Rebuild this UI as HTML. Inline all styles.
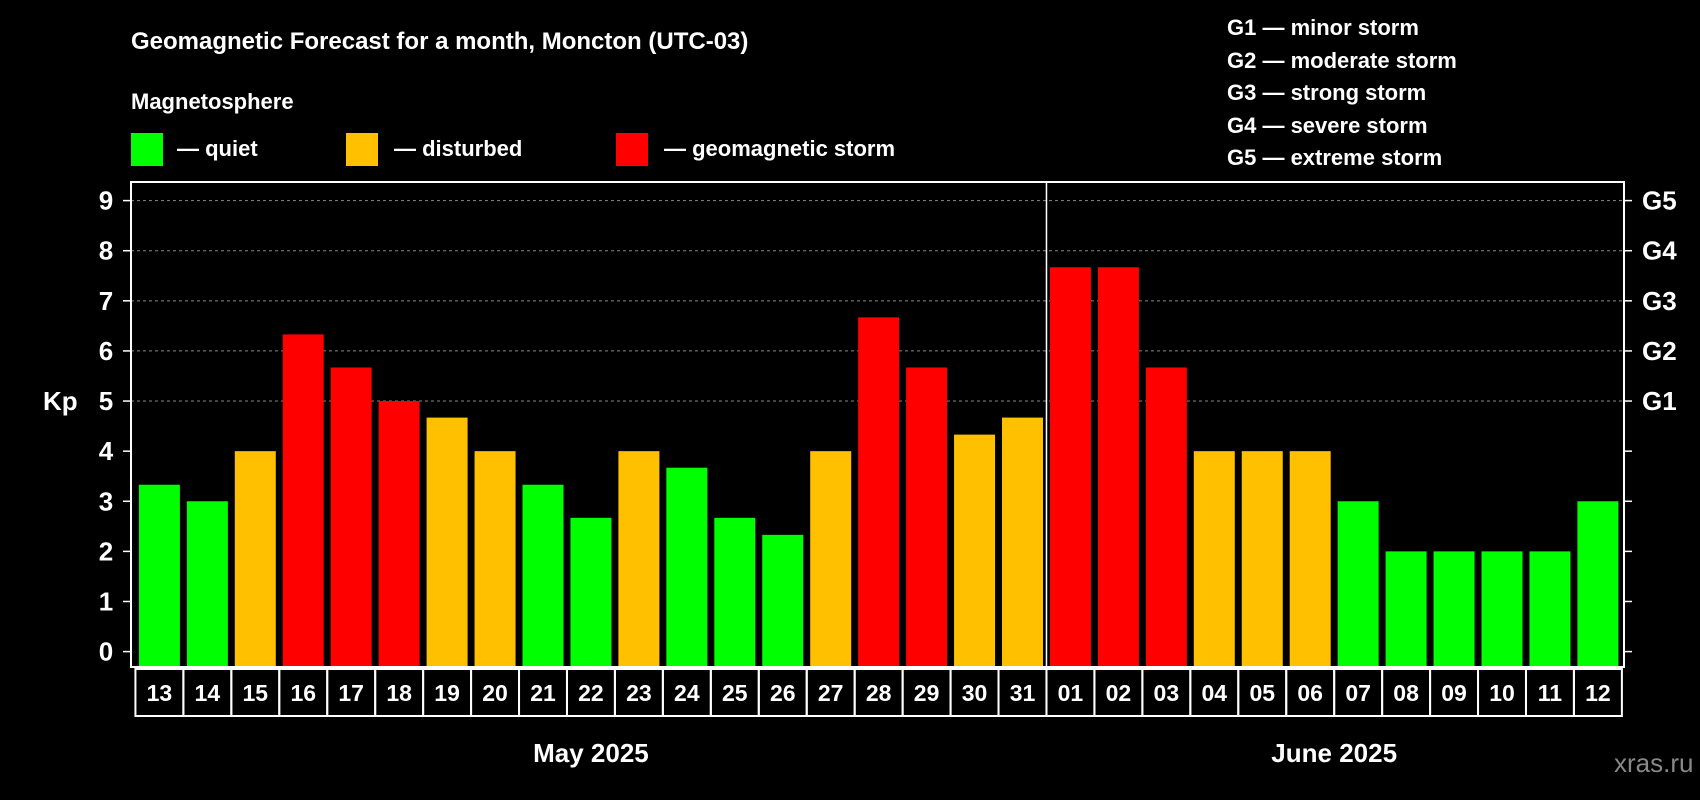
<!DOCTYPE html>
<html><head><meta charset="utf-8"><style>
html,body{margin:0;padding:0;background:#000;}
svg{display:block;font-family:"Liberation Sans",sans-serif;font-weight:bold;}
</style></head><body>
<svg id="chart" width="1700" height="800" viewBox="0 0 1700 800" xmlns="http://www.w3.org/2000/svg">
<rect width="1700" height="800" fill="#000"/>
<text x="131" y="49" fill="#fff" font-size="24">Geomagnetic Forecast for a month, Moncton (UTC-03)</text>
<text x="131" y="109" fill="#fff" font-size="22">Magnetosphere</text>
<rect x="131" y="133" width="32" height="33" fill="#00ff00"/>
<text x="177" y="156" fill="#fff" font-size="22">— quiet</text>
<rect x="346" y="133" width="32" height="33" fill="#ffc000"/>
<text x="394" y="156" fill="#fff" font-size="22">— disturbed</text>
<rect x="616" y="133" width="32" height="33" fill="#ff0000"/>
<text x="664" y="156" fill="#fff" font-size="22">— geomagnetic storm</text>
<g fill="#fff" font-size="22">
<text x="1227" y="35">G1 — minor storm</text>
<text x="1227" y="68">G2 — moderate storm</text>
<text x="1227" y="100">G3 — strong storm</text>
<text x="1227" y="133">G4 — severe storm</text>
<text x="1227" y="165">G5 — extreme storm</text>
</g>
<text x="43" y="410" fill="#fff" font-size="26">Kp</text>
<text x="1614" y="772" fill="#888" font-size="26" font-weight="normal">xras.ru</text>
<g id="grid"></g><g id="bars"></g><g id="axes"></g>
</svg>
<script>
const days = ["13","14","15","16","17","18","19","20","21","22","23","24","25","26","27","28","29","30","31","01","02","03","04","05","06","07","08","09","10","11","12"];
const kpValues = [3.33,3,4,6.33,5.67,5,4.67,4,3.33,2.67,4,3.67,2.67,2.33,4,6.67,5.67,4.33,4.67,7.67,7.67,5.67,4,4,4,3,2,2,2,2,3];
const yTicks = [0,1,2,3,4,5,6,7,8,9];
const gLabels = ["","","","","","G1","G2","G3","G4","G5"];
const months = ["May 2025","June 2025"];
const monthStarts = [0,19];

const NS="http://www.w3.org/2000/svg";
const L=131,R=1624,T=182,B=667,y0=651.6,y9=200.6;
const x0=159.4, pitch=47.95, bw=41;
function y(v){return y0+(y9-y0)*v/9;}
function xc(i){return x0+i*pitch;}
function mk(tag,attrs,parent){const e=document.createElementNS(NS,tag);for(const k in attrs)e.setAttribute(k,attrs[k]);document.getElementById(parent).appendChild(e);return e;}
function color(v){return v>=5?"#ff0000":(v>=4?"#ffc000":"#00ff00");}

yTicks.forEach((t,i)=>{
  if(gLabels[i]){
    const g=mk("line",{x1:L,x2:R,y1:y(t),y2:y(t),stroke:"#888","stroke-width":1,"stroke-dasharray":"3,3"},"grid");
    
    
  }
});
kpValues.forEach((v,i)=>{
  const r=mk("rect",{x:xc(i)-bw/2,y:y(v),width:bw,height:B-1-y(v),fill:color(v)},"bars");
  
  
});
const frame=mk("rect",{x:L,y:T,width:R-L,height:B-T,fill:"none",stroke:"#fff","stroke-width":2},"axes");


const dx=(xc(monthStarts[1])+xc(monthStarts[1]-1))/2;
const div=mk("line",{x1:dx,x2:dx,y1:T,y2:B,stroke:"#fff","stroke-width":1.5},"axes");


yTicks.forEach((t,i)=>{
  const tl=mk("line",{x1:L-8,x2:L,y1:y(t),y2:y(t),stroke:"#fff","stroke-width":1.5},"axes");
  
  
  const tr=mk("line",{x1:R,x2:R+8,y1:y(t),y2:y(t),stroke:"#fff","stroke-width":1.5},"axes");
  
  
  const lb=mk("text",{x:106,y:y(t)+9,fill:"#fff","font-size":26,"text-anchor":"middle"},"axes");
  lb.textContent=t;
  
  
  if(gLabels[i]){
    const gl=mk("text",{x:1642,y:y(t)+9,fill:"#fff","font-size":26},"axes");
    gl.textContent=gLabels[i];
    
    
  }
});
days.forEach((d,i)=>{
  const bx=mk("rect",{x:xc(i)-pitch/2,y:669,width:pitch,height:47,fill:"none",stroke:"#fff","stroke-width":2},"axes");
  
  
  const t=mk("text",{x:xc(i),y:701,fill:"#fff","font-size":23,"text-anchor":"middle"},"axes");
  t.textContent=d;
  
  
});
months.forEach((m,i)=>{
  const s=monthStarts[i], e=(i+1<monthStarts.length?monthStarts[i+1]:days.length)-1;
  const t=mk("text",{x:(xc(s)+xc(e))/2,y:762,fill:"#fff","font-size":26,"text-anchor":"middle"},"axes");
  t.textContent=m;
  
  
});
</script>
</body></html>
